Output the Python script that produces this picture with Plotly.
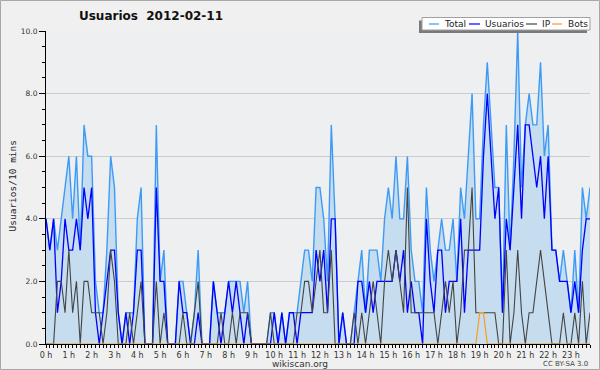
import plotly.graph_objects as go

# ---- data (10-minute slots, 144 per day) ----
hour_labels = ["0 h", "1 h", "2 h", "3 h", "4 h", "5 h", "6 h", "7 h", "8 h", "9 h", "10 h", "11 h",
               "12 h", "13 h", "14 h", "15 h", "16 h", "17 h", "18 h", "19 h", "20 h", "21 h", "22 h", "23 h"]

total = [4, 3, 4, 3, 4, 5, 6, 4, 6, 3, 7, 6, 6, 2, 1, 1, 3, 6, 5, 1, 0, 1, 1, 1,
         4, 5, 0, 0, 0, 7, 2, 3, 0, 0, 0, 2, 2, 1, 0, 1, 3, 0, 0, 0, 2, 1, 1, 1,
         2, 2, 2, 2, 1, 2, 0, 0, 0, 0, 0, 1, 1, 0, 1, 0, 1, 1, 1, 2, 3, 3, 2, 5,
         5, 4, 2, 7, 4, 0, 1, 0, 0, 1, 2, 3, 1, 3, 3, 3, 2, 4, 5, 4, 6, 4, 4, 6,
         3, 2, 2, 1, 5, 3, 2, 3, 4, 3, 3, 4, 2, 5, 4, 6, 8, 4, 4, 7, 9, 7, 5, 5,
         1, 7, 3, 6, 10, 5, 7, 8, 7, 7, 9, 6, 7, 3, 3, 2, 3, 2, 1, 3, 1, 5, 4, 5]

usuarios = [4, 3, 4, 1, 2, 4, 3, 3, 4, 3, 5, 4, 5, 1, 0, 1, 2, 3, 3, 1, 0, 1, 0, 1,
            3, 3, 0, 0, 0, 5, 2, 2, 0, 0, 0, 2, 1, 1, 0, 0, 1, 0, 0, 0, 2, 1, 0, 1,
            2, 1, 2, 1, 0, 1, 0, 0, 0, 0, 0, 0, 1, 0, 1, 0, 1, 1, 0, 1, 1, 1, 1, 3,
            2, 3, 1, 4, 4, 0, 1, 0, 0, 0, 2, 2, 1, 2, 1, 2, 2, 2, 2, 2, 3, 2, 3, 1,
            2, 1, 1, 0, 4, 2, 1, 3, 3, 1, 2, 2, 2, 4, 1, 3, 3, 3, 3, 6, 8, 6, 4, 5,
            1, 4, 3, 5, 7, 4, 7, 7, 6, 5, 6, 4, 6, 3, 3, 2, 2, 2, 1, 2, 1, 3, 4, 4]

ip = [0, 0, 0, 2, 2, 1, 3, 1, 2, 0, 2, 2, 1, 1, 1, 0, 1, 3, 2, 0, 0, 0, 1, 0,
      1, 2, 0, 0, 0, 2, 0, 1, 0, 0, 0, 0, 1, 0, 0, 1, 2, 0, 0, 0, 0, 0, 1, 0,
      0, 1, 0, 1, 1, 1, 0, 0, 0, 0, 0, 1, 0, 0, 0, 0, 0, 0, 1, 1, 2, 2, 1, 2,
      3, 1, 1, 3, 0, 0, 0, 0, 0, 1, 0, 1, 0, 1, 2, 1, 0, 2, 3, 2, 3, 2, 1, 5,
      1, 1, 1, 1, 1, 1, 1, 0, 1, 2, 1, 2, 0, 1, 3, 3, 5, 1, 1, 1, 1, 1, 1, 0,
      0, 3, 0, 1, 3, 1, 0, 1, 1, 2, 3, 2, 1, 0, 0, 0, 1, 0, 0, 1, 0, 2, 0, 1]

bots = [0, 0, 0, 0, 0, 0, 0, 0, 0, 0, 0, 0, 0, 0, 0, 0, 0, 0, 0, 0, 0, 0, 0, 0,
        0, 0, 0, 0, 0, 0, 0, 0, 0, 0, 0, 0, 0, 0, 0, 0, 0, 0, 0, 0, 0, 0, 0, 0,
        0, 0, 0, 0, 0, 0, 0, 0, 0, 0, 0, 0, 0, 0, 0, 0, 0, 0, 0, 0, 0, 0, 0, 0,
        0, 0, 0, 0, 0, 0, 0, 0, 0, 0, 0, 0, 0, 0, 0, 0, 0, 0, 0, 0, 0, 0, 0, 0,
        0, 0, 0, 0, 0, 0, 0, 0, 0, 0, 0, 0, 0, 0, 0, 0, 0, 0, 1, 1, 0, 0, 0, 0,
        0, 0, 0, 0, 0, 0, 0, 0, 0, 0, 0, 0, 0, 0, 0, 0, 0, 0, 0, 0, 0, 0, 0, 0]

series_names = ["Total", "Usuarios", "IP", "Bots"]
y_ticks = [0, 2, 4, 6, 8, 10]

# ---- styling ----
W, H = 600, 370
ML, MR, MT, MB = 46, 10, 31, 26
PW, PH = W - ML - MR, H - MT - MB
C_TOTAL, C_FILL, C_US, C_IP, C_BOTS = "#3d9bf5", "#c6dcef", "#0000ff", "#444444", "#ff9a1a"
FONT = "DejaVu Sans, sans-serif"

slots = list(range(len(total)))


def px(x):
    return (x - ML) / PW


def py(y):
    return (H - MB - y) / PH


fig = go.Figure()
fig.add_trace(go.Scatter(x=slots, y=total, mode="lines", fill="tozeroy", fillcolor=C_FILL,
                         line=dict(color=C_TOTAL, width=1.4), name=series_names[0]))
fig.add_trace(go.Scatter(x=slots, y=usuarios, mode="lines",
                         line=dict(color=C_US, width=1.3), name=series_names[1]))
fig.add_trace(go.Scatter(x=slots, y=ip, mode="lines",
                         line=dict(color=C_IP, width=1.1), name=series_names[2]))
fig.add_trace(go.Scatter(x=slots, y=bots, mode="lines",
                         line=dict(color=C_BOTS, width=1.2), name=series_names[3]))

fig.update_layout(
    width=W, height=H, margin=dict(l=ML, r=MR, t=MT, b=MB, autoexpand=False),
    paper_bgcolor="#f0f0f0", plot_bgcolor="#eeeff1",
    showlegend=False,
    title=dict(text="<b>Usuarios\u00a0\u00a02012-02-11</b>", x=151 / W, y=1 - 16 / H,
               xanchor="center", yanchor="middle", xref="container", yref="container",
               font=dict(family=FONT, size=12, color="#111111")),
    font=dict(family=FONT, size=8, color="#333333"),
)
fig.update_xaxes(range=[0, len(total) - 1], tickvals=[6 * h for h in range(24)], ticktext=hour_labels,
                 ticks="outside", ticklen=3, tickcolor="#000", tickwidth=1, automargin=False,
                 minor=dict(dtick=1, tick0=0, ticks="outside", ticklen=3, tickcolor="#000", tickwidth=1),
                 showgrid=False, zeroline=False, showline=True, linecolor="#000", linewidth=1,
                 tickfont=dict(family=FONT, size=8, color="#333333"))
fig.update_yaxes(range=[0, 10], tickvals=y_ticks, tickformat=".1f", automargin=False,
                 ticks="outside", ticklen=6, tickcolor="#000", tickwidth=1,
                 minor=dict(dtick=0.5, tick0=0, ticks="outside", ticklen=3, tickcolor="#000", tickwidth=1,
                            showgrid=False),
                 showgrid=True, gridcolor="#cccccc", gridwidth=1, zeroline=False,
                 showline=True, linecolor="#000", linewidth=1,
                 tickfont=dict(family=FONT, size=7.5, color="#333333"))

shapes = []
# figure border
shapes.append(dict(type="rect", xref="paper", yref="paper", x0=px(0.5), x1=px(W - 0.5),
                   y0=py(0.5), y1=py(H - 0.5), line=dict(color="#a8a8a8", width=1), fillcolor="rgba(0,0,0,0)"))
# legend box with shadow
shapes.append(dict(type="rect", xref="paper", yref="paper", x0=px(419), x1=px(587), y0=py(20.5), y1=py(33),
                   line=dict(width=0), fillcolor="#7a7a7a"))
shapes.append(dict(type="rect", xref="paper", yref="paper", x0=px(422), x1=px(590), y0=py(17.5), y1=py(30),
                   line=dict(color="#a0a0a0", width=1), fillcolor="#ffffff"))
legend_items = [(series_names[0], C_TOTAL, 429, 439, 442),
                (series_names[1], C_US, 469, 480, 483),
                (series_names[2], C_IP, 526, 537, 540),
                (series_names[3], C_BOTS, 552, 562, 566)]
annotations = []
for name, col, lx0, lx1, tx in legend_items:
    shapes.append(dict(type="line", xref="paper", yref="paper", x0=px(lx0), x1=px(lx1), y0=py(24), y1=py(24),
                       line=dict(color=col, width=1.2)))
    annotations.append(dict(text=name, xref="paper", yref="paper", x=px(tx), y=py(24),
                            xanchor="left", yanchor="middle", showarrow=False,
                            font=dict(family=FONT, size=9, color="#222222")))

annotations.append(dict(text="Usuarios/10 mins", xref="paper", yref="paper", x=px(11.5), y=py(186),
                        textangle=-90, xanchor="center", yanchor="middle", showarrow=False,
                        font=dict(family="DejaVu Sans Mono, monospace", size=9.5, color="#222222")))
annotations.append(dict(text="wikiscan.org", xref="paper", yref="paper", x=px(300), y=py(363.5),
                        xanchor="center", yanchor="middle", showarrow=False,
                        font=dict(family=FONT, size=9, color="#333333")))
annotations.append(dict(text="CC BY-SA 3.0", xref="paper", yref="paper", x=px(590), y=py(364.5),
                        xanchor="right", yanchor="middle", showarrow=False,
                        font=dict(family=FONT, size=7, color="#444444")))

fig.update_layout(shapes=shapes, annotations=annotations)
fig.write_html("out.html", config={"displayModeBar": False},
               post_script="document.body.style.margin='0';")
